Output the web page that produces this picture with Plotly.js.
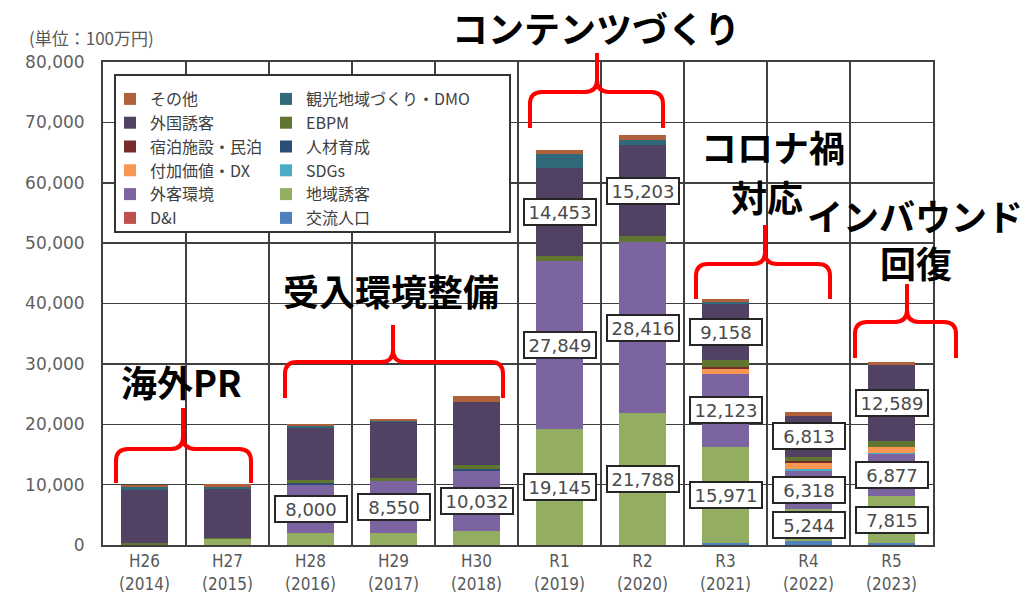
<!DOCTYPE html>
<html><head><meta charset="utf-8">
<script src="https://cdn.plot.ly/plotly-3.0.1.min.js"></script>
<style>html,body{margin:0;padding:0;background:#fff}#chart{width:1024px;height:602px}</style>
</head><body><div id="chart"></div>
<script>
// ---- data (unit: 100万円) ----
const categories = ['H26<br>(2014)','H27<br>(2015)','H28<br>(2016)','H29<br>(2017)','H30<br>(2018)',
                    'R1<br>(2019)','R2<br>(2020)','R3<br>(2021)','R4<br>(2022)','R5<br>(2023)'];
const koryuJinko   = [0,0,0,0,0,0,0,300,700,300];                                // 交流人口
const chiikiYukyaku= [0,1000,2000,2000,2300,19145,21788,15971,5244,7815];        // 地域誘客
const dAndI        = [0,0,0,0,0,0,0,0,0,0];                                      // D&I
const gaikyakuKankyo=[0,0,8000,8550,10032,27849,28416,12123,6318,6877];          // 外客環境
const sdgs         = [0,0,0,0,0,0,0,0,300,200];                                  // SDGs
const fukaKachi    = [0,0,0,0,0,0,0,830,1100,1100];                              // 付加価値・DX
const shukuhaku    = [0,0,0,0,0,0,0,300,300,0];                                  // 宿泊施設・民泊
const jinzai       = [0,0,200,0,300,0,0,0,0,0];                                  // 人材育成
const ebpm         = [300,200,600,600,700,950,900,1200,650,1000];                // EBPM
const gaikokuYukyaku=[8800,8000,8600,9200,10400,14453,15203,9158,6813,12589];    // 外国誘客
const dmo          = [500,400,300,200,0,2300,800,450,0,0];                       // 観光地域づくり・DMO
const sonota       = [300,500,400,400,1000,650,800,350,550,500];                 // その他

// which segments carry a boxed value label
const labelChiiki   = [0,0,0,0,0,1,1,1,1,1];
const labelGaikyaku = [0,0,1,1,1,1,1,1,1,1];
const labelGaikoku  = [0,0,0,0,0,1,1,1,1,1];

const yTicks = [0,10000,20000,30000,40000,50000,60000,70000,80000];

// ---- layout helpers ----
const W=1024,H=602,M={l:103,r:91,t:62,b:57};
const PW=W-M.l-M.r, PH=H-M.t-M.b;
const px = x => (x-M.l)/PW;
const py = y => (H-M.b-y)/PH;

// stack order bottom -> top, with legend placement
const series = [
  {name:'交流人口', v:koryuJinko, c:'#4F81BD', lg:'legend2', rk:6},
  {name:'地域誘客', v:chiikiYukyaku, c:'#93AD62', lg:'legend2', rk:5},
  {name:'D&I', v:dAndI, c:'#C0504D', lg:'legend', rk:6},
  {name:'外客環境', v:gaikyakuKankyo, c:'#7C64A0', lg:'legend', rk:5},
  {name:'SDGs', v:sdgs, c:'#4BACC6', lg:'legend2', rk:4},
  {name:'付加価値・DX', v:fukaKachi, c:'#F79552', lg:'legend', rk:4},
  {name:'宿泊施設・民泊', v:shukuhaku, c:'#772C2A', lg:'legend', rk:3},
  {name:'人材育成', v:jinzai, c:'#2C4D75', lg:'legend2', rk:3},
  {name:'EBPM', v:ebpm, c:'#5F7530', lg:'legend2', rk:2},
  {name:'外国誘客', v:gaikokuYukyaku, c:'#514163', lg:'legend', rk:2},
  {name:'観光地域づくり・DMO', v:dmo, c:'#31697A', lg:'legend2', rk:1},
  {name:'その他', v:sonota, c:'#B0603A', lg:'legend', rk:1}
];

const traces = series.map(s => ({
  type:'bar', x:categories, y:s.v, name:s.name,
  marker:{color:s.c, line:{width:0}},
  legend:s.lg, legendrank:s.rk, hoverinfo:'skip'
}));

// cumulative bases for label positions
const base = series.map(()=>categories.map(()=>0));
for(let i=1;i<series.length;i++) for(let j=0;j<categories.length;j++)
  base[i][j]=base[i-1][j]+series[i-1].v[j];

const annotations = [];
function addLabels(name, mask){
  const i = series.findIndex(s=>s.name===name);
  categories.forEach((c,j)=>{
    if(!mask[j]) return;
    const v = series[i].v[j];
    annotations.push({
      xref:'x', yref:'y', x:c, y:base[i][j]+v/2, showarrow:false,
      text:v.toLocaleString('en-US'),
      font:{family:'DejaVu Sans, sans-serif', size:18, color:'#4a4a4a'},
      bgcolor:'#ffffff', bordercolor:'#262626', borderwidth:2, borderpad:1,
      width:68, height:22, valign:'middle'
    });
  });
}
addLabels('地域誘客', labelChiiki);
addLabels('外客環境', labelGaikyaku);
addLabels('外国誘客', labelGaikoku);

// big period captions
const capFont = {family:'Noto Sans CJK JP, sans-serif', size:36, color:'#000000', weight:700};
[
  ['海外PR',181,381],
  ['受入環境整備',391,290],
  ['コンテンツづくり',596,27],
  ['コロナ禍',773,146],
  ['対応',767,196],
  ['インバウンド',915,215],
  ['回復',916,262]
].forEach(([t,x,y])=>annotations.push({
  xref:'paper', yref:'paper', x:px(x), y:py(y), xanchor:'center', yanchor:'middle',
  text:'<b>'+t+'</b>', showarrow:false, font:capFont, borderpad:0, height:40
}));

// unit label
annotations.push({xref:'paper', yref:'paper', x:px(27), y:py(38), xanchor:'left', yanchor:'middle',
  text:'(単位：100万円)', showarrow:false,
  font:{family:'Noto Sans CJK JP, sans-serif', size:17, color:'#595959'}});

// red braces
function brace(L,R,yb,yh,P,yp,r){
  const p=(x,y)=>px(x).toFixed(5)+','+py(y).toFixed(5);
  return 'M'+p(L,yb)+' L'+p(L,yh+r)+' Q'+p(L,yh)+' '+p(L+r,yh)+' L'+p(P-r,yh)+
         ' Q'+p(P,yh)+' '+p(P,yh-r)+' L'+p(P,yp)+
         ' M'+p(P,yh-r)+' Q'+p(P,yh)+' '+p(P+r,yh)+' L'+p(R-r,yh)+
         ' Q'+p(R,yh)+' '+p(R,yh+r)+' L'+p(R,yb);
}
const braces = [
  [116,251,483,449,183,408,12],
  [285,503,398,362,393,325,12],
  [530,663,128,92,597,53,12],
  [696,830,299,264,765,225,12],
  [855,956,358,322,907,284,12]
];
const shapes = braces.map(b=>({type:'path', xref:'paper', yref:'paper', path:brace(...b),
  line:{color:'#FF0000', width:4}, layer:'above'}));
// legend frame
shapes.push({type:'rect', xref:'paper', yref:'paper', x0:px(115), x1:px(510), y0:py(232), y1:py(75),
  line:{color:'#333333', width:2}, fillcolor:'#ffffff', layer:'above'});

const legFont = {family:'Noto Sans CJK JP, sans-serif', size:16, color:'#404040'};
const layout = {
  width:W, height:H, margin:M, paper_bgcolor:'#ffffff', plot_bgcolor:'#ffffff',
  barmode:'stack', bargap:0.44, showlegend:true,
  xaxis:{type:'category', tickson:'boundaries', showgrid:true, gridcolor:'#404040', gridwidth:1.5,
    showline:true, mirror:true, linecolor:'#404040', linewidth:2, ticks:'',
    tickfont:{family:'Liberation Sans Narrow, DejaVu Sans Condensed, sans-serif', size:17, color:'#595959'}},
  yaxis:{range:[0,80000], tickvals:yTicks, tickformat:',d', showgrid:true, gridcolor:'#404040', gridwidth:1.5,
    zeroline:false, showline:true, mirror:true, linecolor:'#404040', linewidth:2, ticks:'',
    ticklabelstandoff:13,
    tickfont:{family:'DejaVu Sans, sans-serif', size:17, color:'#5f5f5f'}},
  legend:{x:px(110), y:py(82), xanchor:'left', yanchor:'top', orientation:'v', traceorder:'normal',
    bgcolor:'rgba(0,0,0,0)', borderwidth:0, font:legFont, tracegroupgap:0},
  legend2:{x:px(266), y:py(82), xanchor:'left', yanchor:'top', orientation:'v', traceorder:'normal',
    bgcolor:'rgba(0,0,0,0)', borderwidth:0, font:legFont, tracegroupgap:0},
  annotations, shapes
};
Plotly.newPlot('chart', traces, layout, {staticPlot:true, displayModeBar:false});
</script></body></html>
